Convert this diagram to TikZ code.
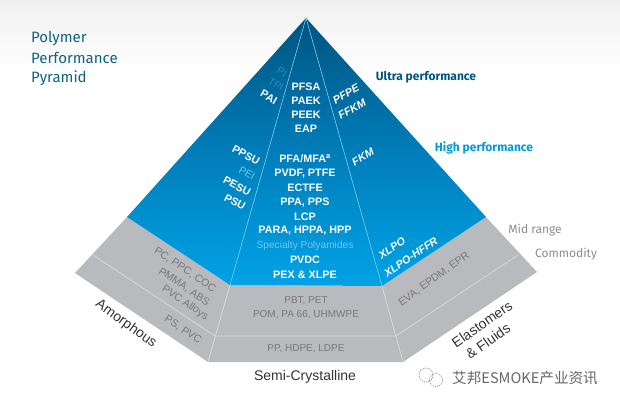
\documentclass[tikz,border=0pt]{standalone}
\usepackage{fontspec}
\setmainfont{Liberation Sans}
\newfontfamily\din{Fira Sans}
\newfontfamily\cjk{Noto Sans CJK SC}
\definecolor{topblue}{RGB}{0,84,128}
\definecolor{midblue}{RGB}{0,125,185}
\definecolor{lowblue}{RGB}{0,163,230}
\definecolor{edgeblue}{RGB}{125,205,240}
\definecolor{grayface}{RGB}{185,186,190}
\definecolor{grayline}{RGB}{214,215,218}
\definecolor{graytext}{RGB}{120,121,125}
\definecolor{softtext}{RGB}{140,141,145}
\definecolor{faint}{RGB}{45,140,190}
\definecolor{faintlow}{RGB}{110,200,240}
\definecolor{titleteal}{RGB}{15,98,128}
\tikzset{
  x=1pt,y=-1pt,
  wlabel/.style={font=\fontsize{10.8}{12}\selectfont\bfseries,text=white,inner sep=0pt},
  witalic/.style={font=\fontsize{10.8}{12}\selectfont\bfseries\itshape,text=white,inner sep=0pt},
  flabel/.style={font=\fontsize{10.2}{12}\selectfont,text=faint,inner sep=0pt},
  glabel/.style={font=\fontsize{10}{12}\selectfont,text=graytext,inner sep=0pt},
  slabel/.style={font=\fontsize{10.6}{12}\selectfont,text=graytext,inner sep=0pt},
  clabel/.style={font=\fontsize{14}{15}\selectfont,text=black!80,inner sep=0pt},
  rlabel/.style={font=\din\fontsize{12}{14}\selectfont,text=softtext,inner sep=0pt},
  tlabel/.style={font=\din\fontsize{15}{18}\selectfont,text=titleteal,inner sep=0pt,anchor=west},
  plabel/.style={font=\din\bfseries\fontsize{12}{14}\selectfont,inner sep=0pt}
}
\begin{document}
\begin{tikzpicture}
\useasboundingbox (0,0) rectangle (620,405);
\shade[top color=black!6,bottom color=white] (0,0) rectangle (620,70);
% corners
\coordinate (apex) at (306,18);
\coordinate (bl) at (127,217);
\coordinate (bil) at (230,285);
\coordinate (bir) at (382,286);
\coordinate (br) at (486,217);
\coordinate (gl) at (75,273);
\coordinate (gbl) at (208,362);
\coordinate (gbr) at (403,362);
\coordinate (gr) at (537,272);
\coordinate (ml) at (93,255);
\coordinate (mil) at (215,336);
\coordinate (mir) at (396,336);
\coordinate (mr) at (518,255);
% grey base
\fill[grayface] (bl) -- (bil) -- (bir) -- (br) -- (gr) -- (gbr) -- (gbl) -- (gl) -- cycle;
\draw[grayline,line width=.8pt] (ml) -- (mil) -- (mir) -- (mr);
\draw[grayline,line width=.8pt] (bil) -- (gbl) (bir) -- (gbr);
% blue pyramid
\shade[top color=topblue,bottom color=lowblue,middle color=midblue]
  (apex) -- (br) -- (bir) -- (bil) -- (bl) -- cycle;
\draw[edgeblue,line width=.6pt] (bil) -- (apex) -- (bir);
% title
\node[tlabel] (t1) at (31,38) {Polymer};
\node[tlabel] (t2) at (31,58) {Performance};
\node[tlabel] (t3) at (31,78) {Pyramid};
% tier names
\node[plabel,text=topblue] (ultra) at (426,77) {Ultra performance};
\node[plabel,text=lowblue!95!black] (high) at (484,148) {High performance};
\node[rlabel] (mid) at (535,230) {Mid range};
\node[rlabel] (comm) at (566,254) {Commodity};
% centre column
\node[wlabel] (c1) at (306,87) {PFSA};
\node[wlabel] (c2) at (306,101) {PAEK};
\node[wlabel] (c3) at (306,115) {PEEK};
\node[wlabel] (c4) at (306,129) {EAP};
\node[wlabel] (c5) at (305,159) {PFA/MFA\textsuperscript{a}};
\node[wlabel] (c6) at (305,174) {PVDF, PTFE};
\node[wlabel] (c7) at (305,188) {ECTFE};
\node[wlabel] (c8) at (305,203) {PPA, PPS};
\node[wlabel] (c9) at (305,217) {LCP};
\node[wlabel] (c10) at (305,231) {PARA, HPPA, HPP};
\node[flabel,text=faintlow] (c11) at (305,246) {Specialty Polyamides};
\node[wlabel] (c12) at (305,260) {PVDC};
\node[wlabel] (c13) at (305,275) {PEX \& XLPE};
% left face
\node[flabel,rotate=-30] (l1) at (282,72) {PI};
\node[flabel,rotate=-30] (l2) at (276,84) {TPI};
\node[wlabel,rotate=-30] (l3) at (269,97) {PAI};
\node[wlabel,rotate=-28] (l4) at (246,155) {PPSU};
\node[flabel,text=faintlow,rotate=-28] (l5) at (247,173) {PEI};
\node[wlabel,rotate=-28] (l6) at (237,186) {PESU};
\node[wlabel,rotate=-28] (l7) at (235,202) {PSU};
% right face
\node[witalic,rotate=30] (r1) at (346,94) {PFPE};
\node[witalic,rotate=30] (r2) at (352,109) {FFKM};
\node[witalic,rotate=30] (r3) at (363,157) {FKM};
\node[witalic,rotate=34] (r4) at (392,248) {XLPO};
\node[witalic,rotate=34] (r5) at (411,257) {XLPO-HFFR};
% grey labels
\node[slabel,rotate=-34] (g1) at (185,270) {PC, PPC, COC};
\node[slabel,rotate=-34] (g2) at (184,287) {PMMA, ABS};
\node[slabel,rotate=-34] (g3) at (185,303) {PVC Alloys};
\node[slabel,rotate=-34] (g4) at (183,330) {PS, PVC};
\node[glabel] (g5) at (306,301) {PBT, PET};
\node[glabel] (g6) at (306,315) {POM, PA 66, UHMWPE};
\node[glabel] (g7) at (306,349) {PP, HDPE, LDPE};
\node[slabel,rotate=36] (g8) at (434,279) {EVA, EPDM, EPR};
% categories
\node[clabel,rotate=-36] (k1) at (126,324) {Amorphous};
\node[clabel] (k2) at (305,377) {Semi-Crystalline};
\node[clabel,rotate=35] (k3) at (482,324) {Elastomers};
\node[clabel,rotate=35] (k4) at (488,341) {\& Fluids};
% watermark
\node[font=\cjk\fontsize{14.6}{16}\selectfont,text=black!60,inner sep=0pt,anchor=west] (w) at (452,378) {艾邦ESMOKE产业资讯};
\draw[black!40,line width=.8pt,dash pattern=on 1pt off 1pt] (426,375) circle (7);
\draw[black!40,line width=.8pt,dash pattern=on 1pt off 1pt] (436,380) circle (6.5);
\end{tikzpicture}
\end{document}
